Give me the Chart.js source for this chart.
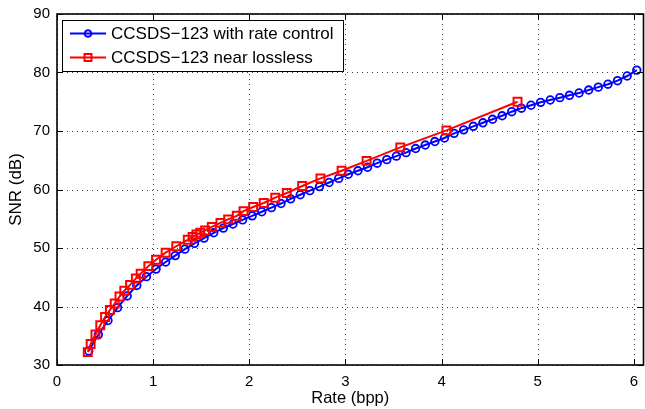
<!DOCTYPE html>
<html><head><meta charset="utf-8">
<script src="https://cdn.jsdelivr.net/npm/chart.js@4/dist/chart.umd.min.js"></script>
<style>html,body{margin:0;padding:0;background:#fff;}#wrap{width:645px;height:409px;}</style>
</head><body><div id="wrap"><canvas id="c" width="645" height="409"></canvas></div>
<script>
const seriesNames = ['CCSDS\u2212123 with rate control', 'CCSDS\u2212123 near lossless'];
const rateControlX = [0.33,0.43,0.53,0.63,0.73,0.83,0.93,1.03,1.13,1.23,1.33,1.43,1.53,1.63,1.73,1.83,1.93,2.03,2.13,2.23,2.33,2.43,2.53,2.63,2.73,2.83,2.93,3.03,3.13,3.23,3.33,3.43,3.53,3.63,3.73,3.83,3.93,4.03,4.13,4.23,4.33,4.43,4.53,4.63,4.73,4.83,4.93,5.03,5.13,5.23,5.33,5.43,5.53,5.63,5.73,5.83,5.93,6.03];
const rateControlSNR = [32.4,35.2,37.6,39.8,41.8,43.6,45.1,46.4,47.6,48.7,49.8,50.8,51.7,52.6,53.4,54.1,54.8,55.5,56.2,56.9,57.6,58.4,59.1,59.8,60.5,61.2,61.9,62.6,63.2,63.8,64.5,65.1,65.7,66.3,67.0,67.6,68.2,68.8,69.6,70.2,70.8,71.4,72.0,72.6,73.3,73.9,74.4,74.9,75.3,75.7,76.1,76.5,77.0,77.5,78.0,78.6,79.4,80.4];
const nearLosslessX = [0.32,0.35,0.40,0.45,0.50,0.55,0.60,0.65,0.70,0.76,0.82,0.87,0.95,1.03,1.13,1.24,1.36,1.41,1.45,1.49,1.54,1.61,1.70,1.78,1.87,1.94,2.04,2.15,2.27,2.39,2.55,2.74,2.96,3.22,3.57,4.05,4.79];
const nearLosslessSNR = [32.2,33.6,35.2,36.8,38.2,39.4,40.5,41.7,42.7,43.7,44.8,45.6,46.9,48.0,49.2,50.3,51.4,51.9,52.3,52.6,53.0,53.6,54.3,54.9,55.5,56.3,57.0,57.7,58.6,59.4,60.6,61.9,63.2,64.9,67.2,70.1,75.0];
const xTicks = [0,1,2,3,4,5,6];
const yTicks = [30,40,50,60,70,80,90];
const xTitle = 'Rate (bpp)';
const yTitle = 'SNR (dB)';

const FONT = 'Liberation Sans, Arial, Helvetica, sans-serif';
const toPts = (xs, ys) => xs.map((x, i) => ({x: x, y: ys[i]}));

const matlabAxes = {
  id: 'matlabAxes',
  beforeDatasetsDraw(chart) {
    const {ctx, chartArea: a, scales: {x, y}} = chart;
    ctx.save();
    ctx.strokeStyle = '#3a3a3a';
    ctx.lineWidth = 1;
    ctx.setLineDash([1, 4]);
    xTicks.forEach(v => {
      const px = Math.round(x.getPixelForValue(v)) + 0.5;
      ctx.beginPath(); ctx.moveTo(px, a.bottom); ctx.lineTo(px, a.top); ctx.stroke();
    });
    yTicks.forEach(v => {
      const py = Math.round(y.getPixelForValue(v)) + 0.5;
      ctx.beginPath(); ctx.moveTo(a.left, py); ctx.lineTo(a.right, py); ctx.stroke();
    });
    ctx.restore();
  },
  afterDatasetsDraw(chart) {
    const {ctx, chartArea: a, scales: {x, y}} = chart;
    ctx.save();
    ctx.strokeStyle = '#000';
    ctx.lineWidth = 1.6;
    ctx.setLineDash([]);
    ctx.strokeRect(a.left, a.top, a.right - a.left, a.bottom - a.top);
    ctx.lineWidth = 1;
    const tl = 6;
    xTicks.forEach(v => {
      const px = Math.round(x.getPixelForValue(v)) + 0.5;
      ctx.beginPath(); ctx.moveTo(px, a.bottom); ctx.lineTo(px, a.bottom - tl);
      ctx.moveTo(px, a.top); ctx.lineTo(px, a.top + tl); ctx.stroke();
    });
    yTicks.forEach(v => {
      const py = Math.round(y.getPixelForValue(v)) + 0.5;
      ctx.beginPath(); ctx.moveTo(a.left, py); ctx.lineTo(a.left + tl, py);
      ctx.moveTo(a.right, py); ctx.lineTo(a.right - tl, py); ctx.stroke();
    });
    ctx.restore();
  },
  afterDraw(chart) {
    const {ctx, chartArea: a} = chart;
    const bx = a.left + 5, by = a.top + 6, bw = 281, bh = 51;
    ctx.save();
    ctx.fillStyle = '#fff';
    ctx.fillRect(bx, by, bw, bh);
    ctx.strokeStyle = '#000';
    ctx.lineWidth = 1;
    ctx.strokeRect(bx + 0.5, by + 0.5, bw, bh);
    const rows = [by + 13.5, by + 37.5];
    const styles = [
      {color: '#0000ff', marker: 'circle'},
      {color: '#ff0000', marker: 'square'}
    ];
    ctx.font = '17px ' + FONT;
    ctx.textBaseline = 'middle';
    rows.forEach((ry, i) => {
      const st = styles[i];
      ctx.strokeStyle = st.color;
      ctx.lineWidth = 2;
      ctx.beginPath(); ctx.moveTo(bx + 8, ry); ctx.lineTo(bx + 44, ry); ctx.stroke();
      const cx = bx + 26;
      if (st.marker === 'circle') {
        ctx.beginPath(); ctx.arc(cx, ry, 3.3, 0, Math.PI * 2); ctx.stroke();
      } else {
        ctx.strokeRect(cx - 3.5, ry - 3.5, 7, 7);
      }
      ctx.fillStyle = '#000';
      ctx.fillText(seriesNames[i], bx + 49, ry + 1);
    });
    ctx.restore();
  }
};

new Chart(document.getElementById('c'), {
  type: 'line',
  data: {
    datasets: [
      {
        label: seriesNames[0],
        data: toPts(rateControlX, rateControlSNR),
        borderColor: '#0000ff',
        borderWidth: 2,
        pointStyle: 'circle',
        pointRadius: 3.8,
        pointBorderWidth: 1.8,
        pointBorderColor: '#0000ff',
        pointBackgroundColor: 'rgba(0,0,0,0)',
        tension: 0,
        order: 2,
        clip: false
      },
      {
        label: seriesNames[1],
        data: toPts(nearLosslessX, nearLosslessSNR),
        borderColor: '#ff0000',
        borderWidth: 2,
        pointStyle: 'rect',
        pointRadius: 5.6,
        pointBorderWidth: 2,
        pointBorderColor: '#ff0000',
        pointBackgroundColor: 'rgba(0,0,0,0)',
        tension: 0,
        order: 1,
        clip: false
      }
    ]
  },
  options: {
    responsive: false,
    animation: false,
    devicePixelRatio: 1,
    layout: {autoPadding: false, padding: {top: 14, right: 1.5, left: 0, bottom: 0}},
    plugins: {legend: {display: false}, tooltip: {enabled: false}},
    scales: {
      x: {
        type: 'linear', min: 0, max: 6.1,
        afterBuildTicks: s => { s.ticks = xTicks.map(v => ({value: v})); },
        afterFit: s => { s.height = 44; s.paddingLeft = 0; s.paddingRight = 0; },
        grid: {display: false, drawTicks: false},
        border: {display: false},
        ticks: {color: '#000', font: {family: FONT, size: 15}, padding: 8, maxRotation: 0, autoSkip: false},
        title: {display: true, text: xTitle, color: '#000', font: {family: FONT, size: 16.5}, padding: {top: 0, bottom: 1}}
      },
      y: {
        type: 'linear', min: 30, max: 90,
        afterBuildTicks: s => { s.ticks = yTicks.map(v => ({value: v})); },
        afterFit: s => { s.width = 57; s.paddingTop = 0; s.paddingBottom = 0; },
        grid: {display: false, drawTicks: false},
        border: {display: false},
        ticks: {color: '#000', font: {family: FONT, size: 15}, padding: 7, autoSkip: false},
        title: {display: true, text: yTitle, color: '#000', font: {family: FONT, size: 17}, padding: {top: 6, bottom: 0}}
      }
    }
  },
  plugins: [matlabAxes]
});
</script></body></html>
